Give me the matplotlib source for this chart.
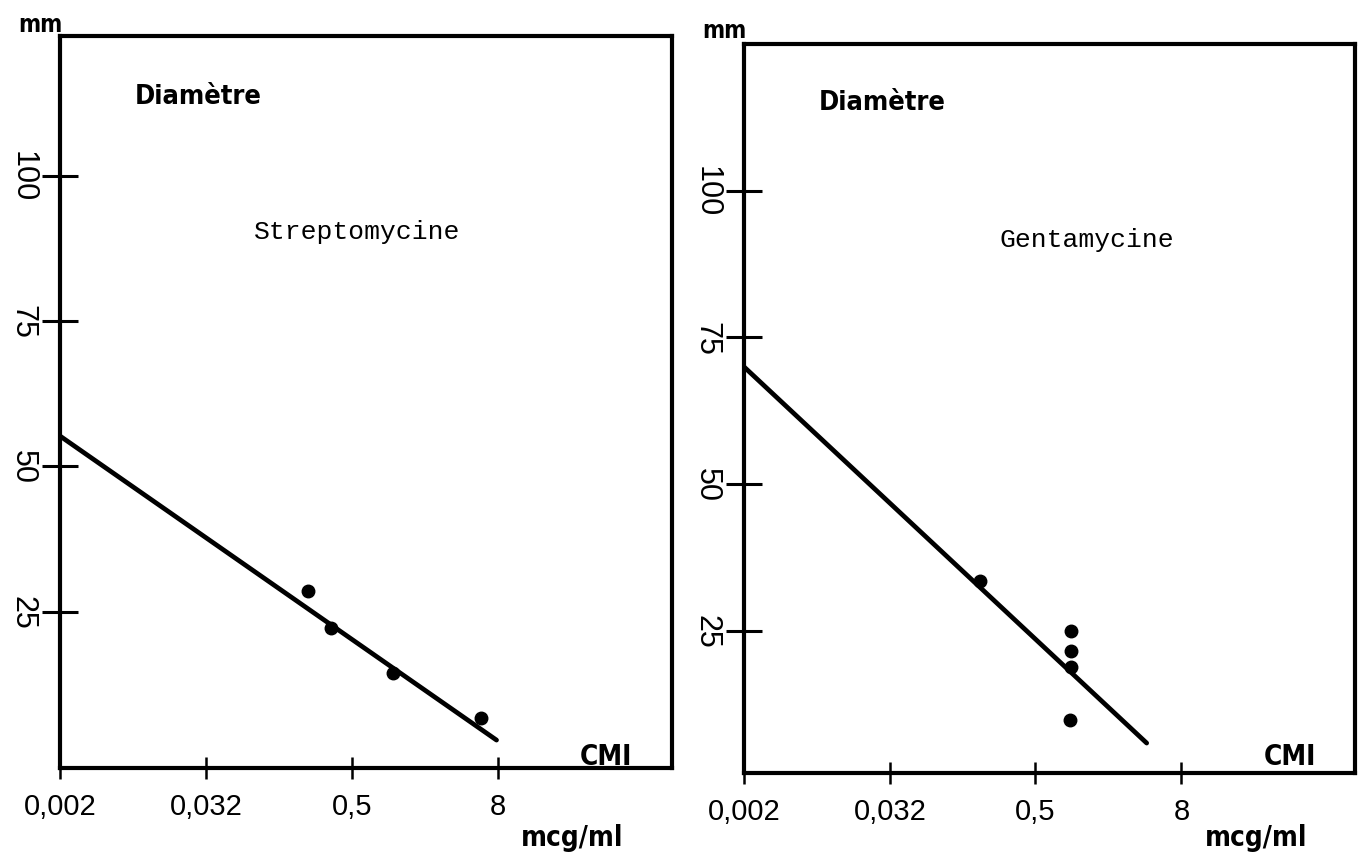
import matplotlib
matplotlib.use("Agg")
import matplotlib.pyplot as plt
from matplotlib import font_manager as fm
import numpy as np

# CMI (mcg/ml) vs inhibition zone diameter (mm)
x_ticks = [0.002, 0.032, 0.5, 8]
x_ticklabels = ["0,002", "0,032", "0,5", "8"]
y_ticks = [25, 50, 75, 100]
y_ticklabels = ["25", "50", "75", "100"]

strepto_cmi = [0.22, 0.34, 1.10, 5.8]
strepto_diam = [28.6, 22.2, 14.5, 6.7]
strepto_line_x = [0.002, 7.76]
strepto_line_y = [55.2, 2.9]

genta_cmi = [0.176, 0.98, 0.98, 0.98, 0.96]
genta_diam = [33.5, 25.0, 21.6, 18.9, 9.8]
genta_line_x = [0.002, 4.14]
genta_line_y = [70.0, 5.9]

W, H = 1372, 862
fig = plt.figure(figsize=(W / 100, H / 100), dpi=100)
fig.patch.set_facecolor("white")


def pick_narrow():
    # look for a condensed bold face, the scan uses one for the labels
    for fam, st in [("Liberation Sans Narrow", "normal"),
                    ("DejaVu Sans", "condensed")]:
        try:
            f = fm.findfont(fm.FontProperties(family=fam, weight="bold", stretch=st),
                            fallback_to_default=False)
            if "Narrow" in f or "Condensed" in f:
                return fam, st, True
        except Exception:
            pass
    return "Liberation Sans", "normal", False


narrow_fam, narrow_stretch, has_narrow = pick_narrow()
nscale = 1.0 if has_narrow else 0.85
typewriter = ["Liberation Mono", "DejaVu Sans Mono"]
sans = ["Liberation Sans", "DejaVu Sans"]


def px(x, y):
    return x / W, 1 - y / H


def label(x, y, s, size):
    fig.text(*px(x, y), s, fontsize=size * nscale, weight="bold",
             family=[narrow_fam, "DejaVu Sans"], fontstretch=narrow_stretch,
             ha="center", va="center")


def panel(rect, cmi, diam, lx, ly, ylim, name, ox, name_pos, mm_y):
    ax = fig.add_axes(rect)
    ax.set_xscale("log", base=2)
    ax.set_xlim(0.002, 215)
    ax.set_ylim(*ylim)
    ax.plot(lx, ly, color="black", lw=3.4, solid_capstyle="round")
    ax.plot(cmi, diam, "o", color="black", markersize=9)
    ax.set_xticks(x_ticks)
    ax.set_xticklabels(x_ticklabels, fontsize=21, family=sans)
    ax.minorticks_off()
    ax.set_yticks(y_ticks)
    ax.set_yticklabels(y_ticklabels, fontsize=22, family=sans,
                       rotation=270, va="center", ha="right")
    ax.tick_params(axis="y", direction="inout", length=26, width=2.2, pad=3)
    ax.tick_params(axis="x", direction="inout", length=16, width=1.8, pad=9)
    for s in ax.spines.values():
        s.set_linewidth(3)
    label(ox - 20, mm_y, "mm", 17)
    label(ox + 138, 97 + (mm_y - 25), "Diamètre", 19.5)
    fig.text(*px(*name_pos), name, fontsize=19,
             family=typewriter, ha="center", va="center")
    label(ox + 546, 757, "CMI", 20)
    label(ox + 512, 838, "mcg/ml", 20)
    return ax


ax1 = panel([60 / W, 1 - 769 / H, 612 / W, 732 / H],
            strepto_cmi, strepto_diam, strepto_line_x, strepto_line_y,
            (-1.9, 124.0), "Streptomycine", 60, (357, 232), 25)
ax2 = panel([744 / W, 1 - 774 / H, 611 / W, 729 / H],
            genta_cmi, genta_diam, genta_line_x, genta_line_y,
            (0.8, 125.0), "Gentamycine", 744, (1087, 240), 31)

fig.savefig("out.png", dpi=100, facecolor="white")
